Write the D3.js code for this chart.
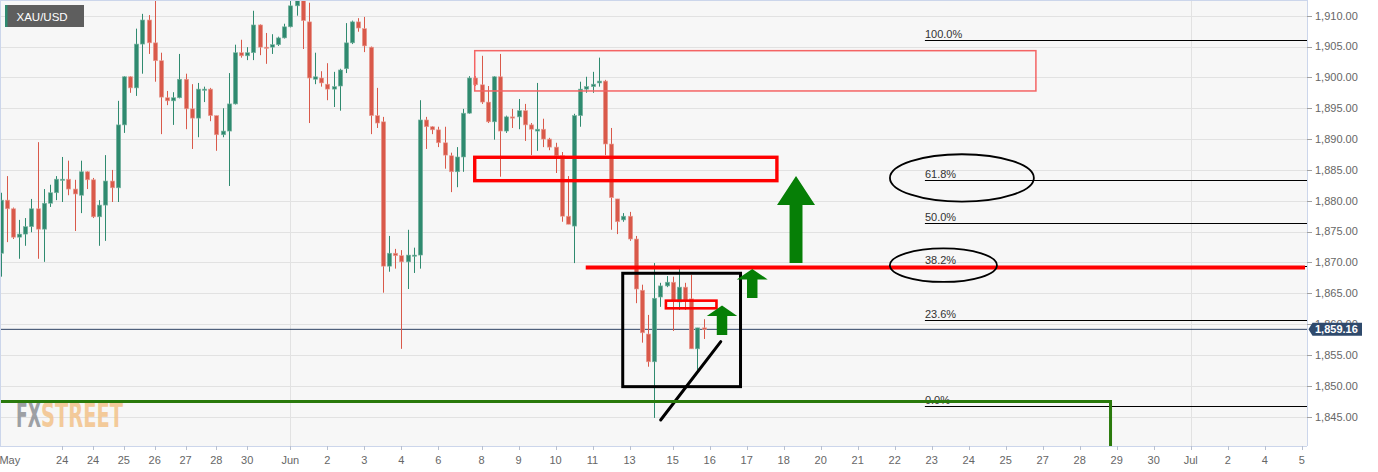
<!DOCTYPE html>
<html><head><meta charset="utf-8">
<script src="https://cdn.jsdelivr.net/npm/d3@7"></script>
<style>
html,body{margin:0;padding:0;background:#fff;overflow:hidden}
svg{display:block;font-family:"Liberation Sans",Arial,sans-serif}
</style>
</head><body>
<svg id="chart" width="1378" height="472"></svg>
<script>
// ---------------- DATA ----------------
const symbol = "XAU/USD";
const openVals = [
1871.5,1880.1,1878.7,1874.1,1874.6,1875.8,1878.7,1875.4,1879.6,1881.3,
1883.4,1883.5,1881.9,1880.9,1884.7,1883.4,1877.4,1879.3,1883.2,1882.1,
1892.3,1900.1,1898.3,1905.4,1909.3,1905.6,1902.7,1896.7,1896.2,1896.7,
1899.7,1894.9,1893.4,1898.0,1898.1,1893.8,1890.7,1891.3,1895.7,1904.0,
1903.5,1904.0,1908.5,1904.9,1904.9,1905.3,1906.4,1908.2,1911.6,1913.0,
1909.0,1899.7,1899.9,1898.9,1898.1,1898.6,1901.4,1905.6,1909.0,1907.9,
1904.9,1893.8,1892.8,1869.4,1871.5,1871.1,1870.1,1871.1,1871.2,1893.1,
1892.0,1891.5,1889.4,1887.3,1884.7,1887.1,1894.2,1899.9,1898.8,1896.0,
1892.8,1900.1,1891.3,1893.6,1893.6,1894.6,1892.3,1891.3,1891.6,1890.0,
1888.7,1887.3,1877.5,1875.9,1893.8,1898.1,1898.5,1899.1,1899.4,1889.2,
1880.3,1876.9,1877.5,1873.8,1865.5,1858.4,1853.9,1864.4,1866.2,1866.8,
1863.6,1866.0,1864.1,1856.0,1859.4];
const highVals = [
1881.3,1884.0,1878.9,1876.9,1877.2,1880.3,1889.5,1881.9,1882.6,1884.0,
1887.1,1886.5,1883.4,1886.5,1884.8,1883.7,1880.1,1887.4,1885.0,1896.2,
1900.2,1900.2,1907.9,1910.3,1910.1,1913.0,1904.0,1897.8,1897.6,1903.8,
1900.6,1898.9,1899.1,1898.5,1898.3,1893.8,1895.0,1900.7,1905.3,1906.1,
1904.9,1910.8,1908.6,1907.2,1907.0,1906.6,1908.7,1912.7,1913.6,1913.4,
1912.1,1904.0,1901.0,1902.3,1900.9,1901.4,1908.8,1909.2,1909.6,1909.8,
1905.0,1898.3,1893.6,1874.3,1872.2,1872.0,1875.3,1872.4,1896.3,1893.6,
1892.1,1892.0,1892.0,1887.8,1888.7,1894.9,1900.2,1900.2,1903.5,1898.6,
1900.2,1903.8,1893.8,1894.9,1896.5,1895.7,1892.6,1899.1,1893.3,1890.2,
1889.4,1887.9,1884.0,1894.1,1899.3,1900.1,1900.9,1903.2,1899.6,1891.8,
1880.3,1878.0,1878.2,1874.3,1866.4,1861.5,1869.9,1866.7,1867.8,1867.7,
1869.1,1866.7,1868.0,1859.4,1860.8];
const lowVals = [
1867.7,1873.3,1873.8,1870.6,1872.7,1874.9,1870.6,1870.1,1879.0,1880.1,
1879.8,1880.9,1875.1,1878.0,1881.9,1877.2,1872.7,1873.5,1879.8,1879.8,
1891.0,1897.5,1897.0,1900.6,1903.8,1899.3,1890.8,1895.5,1892.3,1896.6,
1891.6,1888.4,1890.3,1896.0,1892.9,1888.1,1890.3,1882.4,1895.6,1903.2,
1902.8,1902.8,1903.6,1902.2,1903.8,1905.1,1906.3,1908.1,1910.0,1904.6,
1892.6,1898.9,1898.5,1896.3,1895.2,1894.6,1900.7,1905.4,1907.4,1904.1,
1890.8,1891.8,1865.1,1868.5,1869.0,1856.0,1865.7,1868.3,1869.0,1888.4,
1890.8,1888.7,1885.2,1881.4,1882.2,1884.7,1894.1,1898.6,1895.7,1892.6,
1889.9,1883.9,1891.0,1891.8,1891.6,1889.7,1887.4,1888.1,1888.7,1888.2,
1884.5,1876.6,1876.2,1869.9,1892.0,1897.5,1897.5,1898.5,1887.4,1875.3,
1874.6,1876.6,1873.5,1863.4,1857.0,1853.1,1844.8,1862.8,1866.0,1858.9,
1862.3,1862.3,1856.0,1852.6,1857.6];
const closeVals = [
1880.1,1878.7,1874.1,1874.6,1875.8,1878.7,1875.4,1879.6,1881.3,1883.5,
1883.5,1881.9,1881.1,1884.7,1883.4,1877.4,1879.3,1883.2,1882.1,1892.3,
1900.1,1898.3,1905.4,1909.3,1905.6,1902.7,1896.8,1896.2,1896.7,1899.7,
1894.9,1893.4,1898.1,1898.1,1893.8,1890.7,1891.3,1895.7,1904.0,1903.5,
1904.0,1908.5,1904.9,1904.8,1905.3,1906.4,1908.2,1911.6,1913.2,1909.2,
1899.9,1900.1,1899.1,1898.1,1898.5,1901.2,1905.6,1909.0,1908.0,1905.1,
1893.8,1892.6,1869.4,1871.5,1871.1,1870.1,1871.2,1871.2,1893.1,1892.0,
1891.5,1889.4,1887.4,1884.7,1887.1,1894.2,1899.9,1898.8,1896.0,1892.8,
1900.1,1891.3,1893.6,1893.4,1894.6,1892.3,1891.6,1891.6,1890.0,1888.7,
1887.3,1877.5,1876.2,1893.8,1898.1,1898.5,1898.9,1899.4,1889.2,1880.5,
1876.6,1877.5,1873.8,1865.7,1858.6,1853.9,1864.2,1866.2,1866.8,1863.9,
1866.0,1863.9,1856.0,1859.4,1859.16];

const lastPrice = 1859.16;

// x-axis: candle index of each tick and its label
const xTickIndex  = [1.5,10,15,20,25,30,35,40,47,53,59,65,71,78,84,90,96,102,109,115,121,127,133,139,145,151,157,163,169,175,181,187,193,199,205,211];
const xTickLabels = ["May","24","24","25","26","27","28","30","Jun","2","3","4","6","8","9","10","11","13","15","16","17","18","20","21","22","23","24","25","27","28","29","30","Jul","2","4","5"];
const xGridIndex = [47,193];
const yTicks = [1845,1850,1855,1860,1865,1870,1875,1880,1885,1890,1895,1900,1905,1910];

// Fibonacci retracement
const fibLabels = ["100.0%","61.8%","50.0%","38.2%","23.6%","0.0%"];
const fibPrices = [1906.0,1883.35,1876.35,1869.35,1860.65,1846.7];
const fibStartIndex = 149.9;

// annotation zones [i0, i1, pHigh, pLow]
const thinZone  = [76.9,167.9,1904.33,1897.8];
const thickZone = [76.9,125.9,1887.05,1883.26];
const smallZone = [107.9,116.1,1863.81,1862.57];
const blackBox  = [100.9,120.0,1868.25,1849.87];
const redLevel  = {i0:94.9, price:1869.19};
const greenLevel = {price:1847.47, endIndex:180.0};
const trendLine = [[107.05,1844.47],[116.8,1857.16]];
// ellipses [centerIndex, centerPrice, radiusIndex, radiusPrice]
const ellipses = [[155.9,1883.7,11.67,3.84],[152.9,1869.56,8.68,2.72]];
// arrows [tipIndex, tipPrice, headBasePrice, bottomPrice, headHalfIdx, shaftHalfIdx]
const arrows = [
  [129.0,1884.02,1879.32,1869.92,3.08,1.05],
  [121.9,1868.94,1867.24,1864.25,2.51,0.85],
  [117.0,1863.03,1861.33,1858.24,2.47,0.85]
];

// ---------------- CHART ----------------
const svg = d3.select("#chart");
const plotR = 1307, plotB = 446;
const x = d3.scaleLinear().domain([0,211]).range([0.5,1301.7]);
const y = d3.scaleLinear().domain([1845,1910]).range([416.7,15.7]);

const GREEN = "#2f8a6f", RED = "#d9594a";

svg.append("rect").attr("width",1378).attr("height",472).attr("fill","#ffffff");
svg.append("rect").attr("x",0).attr("y",0).attr("width",plotR).attr("height",plotB).attr("fill","#f7f7f7");

svg.append("defs").append("clipPath").attr("id","plotclip")
  .append("rect").attr("x",0).attr("y",0).attr("width",plotR).attr("height",plotB);

// grid
svg.append("g").selectAll("line").data(yTicks).join("line")
  .attr("x1",0).attr("x2",plotR)
  .attr("y1",d=>Math.round(y(d))+0.5).attr("y2",d=>Math.round(y(d))+0.5)
  .attr("stroke","#e2e2e2").attr("stroke-width",1);
svg.append("g").selectAll("line").data(xGridIndex).join("line")
  .attr("x1",d=>Math.round(x(d))+0.5).attr("x2",d=>Math.round(x(d))+0.5)
  .attr("y1",0).attr("y2",plotB)
  .attr("stroke","#e2e2e2").attr("stroke-width",1);

// watermark (single text, two coloured parts)
const wm = svg.append("text").attr("x",16).attr("y",427).attr("font-size",34)
  .attr("font-weight","bold").attr("opacity",0.85)
  .attr("font-family","'Liberation Sans Narrow','DejaVu Sans Condensed',sans-serif");
wm.append("tspan").attr("fill","#8e9196").attr("textLength",25).attr("lengthAdjust","spacingAndGlyphs").text("FX");
wm.append("tspan").attr("fill","#f3c38a").attr("textLength",82).attr("lengthAdjust","spacingAndGlyphs").text("STREET");

// current price line
svg.append("line").attr("x1",0).attr("x2",plotR)
  .attr("y1",y(lastPrice)).attr("y2",y(lastPrice))
  .attr("stroke","#2d4263").attr("stroke-width",1);

// candles
const candles = d3.range(openVals.length).map(i=>({i,o:openVals[i],h:highVals[i],l:lowVals[i],c:closeVals[i]}));
const cg = svg.append("g").attr("clip-path","url(#plotclip)");
const bodyW = 4.4;
cg.selectAll("line.wick").data(candles).join("line").attr("class","wick")
  .attr("x1",d=>Math.round(x(d.i))+0.5).attr("x2",d=>Math.round(x(d.i))+0.5)
  .attr("y1",d=>y(d.h)).attr("y2",d=>y(d.l))
  .attr("stroke",d=>d.c>=d.o?GREEN:RED).attr("stroke-width",1);
cg.selectAll("rect.body").data(candles).join("rect").attr("class","body")
  .attr("x",d=>Math.round(x(d.i))+0.5-bodyW/2)
  .attr("width",bodyW)
  .attr("y",d=>y(Math.max(d.o,d.c)))
  .attr("height",d=>Math.max(1.2,Math.abs(y(d.o)-y(d.c))))
  .attr("fill",d=>d.c>=d.o?GREEN:RED)
  .attr("stroke",d=>d.c>=d.o?"#7fb7a5":"#eba39a").attr("stroke-width",0.6);

// annotations
const ann = svg.append("g");
function zone(z, color, w){
  ann.append("rect").attr("x",x(z[0])).attr("y",y(z[2]))
    .attr("width",x(z[1])-x(z[0])).attr("height",y(z[3])-y(z[2]))
    .attr("fill","none").attr("stroke",color).attr("stroke-width",w);
}
zone(thinZone,"#f46464",1.5);
zone(thickZone,"#ff0000",3.4);

// fib lines
ann.selectAll("line.fib").data(fibPrices).join("line").attr("class","fib")
  .attr("x1",x(fibStartIndex)).attr("x2",plotR)
  .attr("y1",d=>Math.round(y(d))+0.5).attr("y2",d=>Math.round(y(d))+0.5)
  .attr("stroke","#000").attr("stroke-width",1);
ann.selectAll("text.fib").data(fibPrices).join("text").attr("class","fib")
  .attr("x",x(fibStartIndex)).attr("y",d=>y(d)-2.5)
  .attr("font-size",11).attr("fill","#333").text((d,i)=>fibLabels[i]);

// red level line
ann.append("line").attr("x1",x(redLevel.i0)).attr("x2",plotR-2)
  .attr("y1",y(redLevel.price)).attr("y2",y(redLevel.price))
  .attr("stroke","#ff0000").attr("stroke-width",4);

// ellipses
ann.selectAll("ellipse").data(ellipses).join("ellipse")
  .attr("cx",d=>x(d[0])).attr("cy",d=>y(d[1]))
  .attr("rx",d=>x(d[0]+d[2])-x(d[0])).attr("ry",d=>y(d[1]-d[3])-y(d[1]))
  .attr("fill","none").attr("stroke","#000").attr("stroke-width",1.8);

// small red zone and black box
zone(blackBox,"#000",3);
zone(smallZone,"#ff0000",2.6);

// arrows
ann.selectAll("path.arrow").data(arrows).join("path").attr("class","arrow")
  .attr("d",d=>{
    const [ti,tp,hb,bp,hh,sh]=d;
    return "M"+x(ti)+","+y(tp)+
      "L"+x(ti+hh)+","+y(hb)+
      "L"+x(ti+sh)+","+y(hb)+
      "L"+x(ti+sh)+","+y(bp)+
      "L"+x(ti-sh)+","+y(bp)+
      "L"+x(ti-sh)+","+y(hb)+
      "L"+x(ti-hh)+","+y(hb)+"Z";
  })
  .attr("fill","#067f06");

// trend line
ann.append("line").attr("x1",x(trendLine[0][0])).attr("y1",y(trendLine[0][1]))
  .attr("x2",x(trendLine[1][0])).attr("y2",y(trendLine[1][1]))
  .attr("stroke","#000").attr("stroke-width",3).attr("stroke-linecap","round");

// green support level
ann.append("path")
  .attr("d","M0,"+y(greenLevel.price)+"L"+x(greenLevel.endIndex)+","+y(greenLevel.price)+"L"+x(greenLevel.endIndex)+","+plotB)
  .attr("fill","none").attr("stroke","#2a7a0c").attr("stroke-width",3);

// borders / axes
svg.append("line").attr("x1",0).attr("x2",plotR).attr("y1",0.5).attr("y2",0.5).attr("stroke","#ccd6eb");
svg.append("line").attr("x1",0.5).attr("x2",0.5).attr("y1",0).attr("y2",plotB).attr("stroke","#ccd6eb");
svg.append("line").attr("x1",plotR+0.5).attr("x2",plotR+0.5).attr("y1",0).attr("y2",plotB).attr("stroke","#ccd6eb");
svg.append("line").attr("x1",0).attr("x2",plotR).attr("y1",plotB+0.5).attr("y2",plotB+0.5).attr("stroke","#ccd6eb");

// y axis
const ya = svg.append("g");
ya.selectAll("line").data(yTicks).join("line")
  .attr("x1",plotR).attr("x2",plotR+5)
  .attr("y1",d=>Math.round(y(d))+0.5).attr("y2",d=>Math.round(y(d))+0.5)
  .attr("stroke","#a0a0a0");
ya.selectAll("text").data(yTicks).join("text")
  .attr("x",plotR+8).attr("y",d=>y(d)).attr("dy","0.35em")
  .attr("font-size",11).attr("fill","#666")
  .text(d=>d3.format(",.2f")(d));

// x axis
const xa = svg.append("g");
xa.selectAll("line").data(xTickIndex.slice(1)).join("line")
  .attr("x1",d=>Math.round(x(d))+0.5).attr("x2",d=>Math.round(x(d))+0.5)
  .attr("y1",plotB).attr("y2",plotB+4).attr("stroke","#b8c0d0");
xa.selectAll("text").data(xTickIndex).join("text")
  .attr("x",d=>x(d)).attr("y",463.5).attr("text-anchor","middle")
  .attr("font-size",11).attr("fill","#666")
  .text((d,i)=>xTickLabels[i]);

// last price label
const yc = y(lastPrice);
svg.append("path")
  .attr("d",`M${plotR+1.5},${yc} L${plotR+5.5},${yc-6.5} L1362,${yc-6.5} L1362,${yc+6.5} L${plotR+5.5},${yc+6.5} Z`)
  .attr("fill","#2f4a6c");
svg.append("text").attr("x",plotR+8).attr("y",yc).attr("dy","0.36em")
  .attr("font-size",11).attr("font-weight","bold").attr("fill","#fff")
  .text(d3.format(",.2f")(lastPrice));

// title box
svg.append("rect").attr("x",5).attr("y",5).attr("width",79).attr("height",22).attr("fill","#5e5e5e");
svg.append("rect").attr("x",5).attr("y",5).attr("width",2.5).attr("height",22).attr("fill","#2f8a6f");
svg.append("text").attr("x",16.5).attr("y",20.5).attr("font-size",11.5).attr("fill","#fff").text(symbol);
</script>
</body></html>
